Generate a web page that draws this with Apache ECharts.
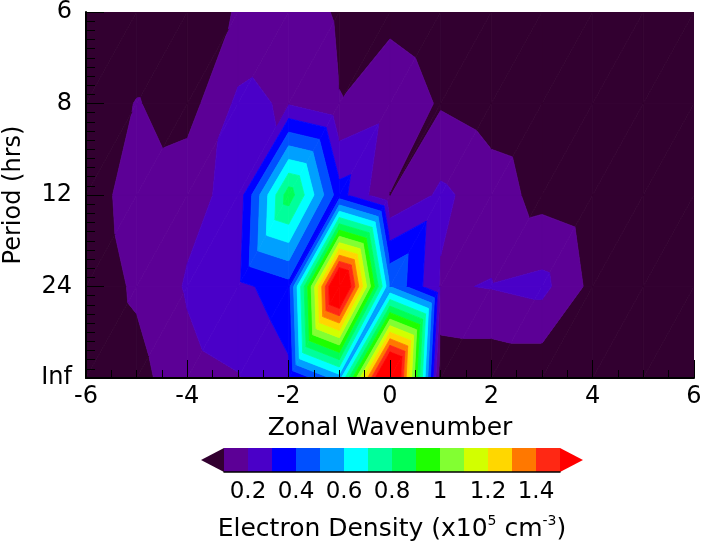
<!DOCTYPE html>
<html>
<head>
<meta charset="utf-8">
<script src="https://cdn.jsdelivr.net/npm/echarts@6.0.0/dist/echarts.min.js"></script>
<style>
  html, body { margin: 0; padding: 0; background: #fff; }
  #chart { width: 709px; height: 548px; }
</style>
</head>
<body>
<div id="chart"></div>
<script>
"use strict";

// zonal wavenumber (columns) and frequency in cycles/day (rows)
var wavenumbers = [-6, -5, -4, -3, -2, -1, 0, 1, 2, 3, 4, 5, 6];
var freqs = [0, 1, 2, 3, 4];
var periodLabels = ['Inf', '24', '12', '8', '6'];

// electron density (x10^5 cm^-3), one row per period
var densInf = [0.03, 0.065, 0.17, 0.195, 0.28, 0.55, 1.9, 0.02, 0.02, 0.02, 0.03, 0.02, 0.02];
var dens24  = [0.04, 0.115, 0.21, 0.27, 0.36, 1.8, 0.5, 0.19, 0.205, 0.23, 0.07, 0.03, 0.02];
var dens12  = [0.05, 0.145, 0.17, 0.23, 0.86, 0.34, 0.098, 0.22, 0.15, 0.065, 0.03, 0.02, 0.02];
var dens8   = [0.03, 0.105, 0.057, 0.22, 0.19, 0.102, 0.16, 0.09, 0.05, 0.03, 0.02, 0.02, 0.02];
var dens6   = [0.02, 0.02, 0.03, 0.11, 0.15, 0.089, 0.075, 0.04, 0.03, 0.02, 0.02, 0.02, 0.02];

var levels = [0.1, 0.2, 0.3, 0.4, 0.5, 0.6, 0.7, 0.8, 0.9, 1.0, 1.1, 1.2, 1.3, 1.4, 1.5];
var barLabels = [0.2, 0.4, 0.6, 0.8, 1.0, 1.2, 1.4];

var bandColors = ['#320030', '#5c0096', '#4a00c8', '#0000ff', '#0050ff', '#00a0ff', '#00ffff',
	'#00ff9b', '#00ff55', '#1eff00', '#82ff32', '#d2ff00', '#ffd700', '#ff7800', '#ff2814', '#ff0000'];

var rows = [densInf, dens24, dens12, dens8, dens6];

// clip a polygon (points [x, y, z]) against z >= lvl (above) or z <= lvl
function clipPoly(poly, lvl, above) {
	var out = [];
	for (var i = 0; i < poly.length; i++) {
		var a = poly[i], b = poly[(i + 1) % poly.length];
		var ina = above ? a[2] >= lvl : a[2] <= lvl;
		var inb = above ? b[2] >= lvl : b[2] <= lvl;
		if (ina) out.push(a);
		if (ina !== inb) {
			var t = (lvl - a[2]) / (b[2] - a[2]);
			out.push([a[0] + t * (b[0] - a[0]), a[1] + t * (b[1] - a[1]), lvl]);
		}
	}
	return out;
}

function bandPolys(tri) {
	var res = [];
	for (var b = 0; b < bandColors.length; b++) {
		var p = tri;
		if (b > 0) p = clipPoly(p, levels[b - 1], true);
		if (p.length >= 3 && b < levels.length) p = clipPoly(p, levels[b], false);
		if (p.length >= 3) res.push({ poly: p, color: bandColors[b] });
	}
	return res;
}

var cells = [];
for (var j = 0; j < freqs.length - 1; j++) {
	for (var i = 0; i < wavenumbers.length - 1; i++) {
		cells.push([wavenumbers[i], freqs[j]]);
	}
}

function renderCell(params, api) {
	var x0 = api.value(0), f0 = api.value(1);
	var i = wavenumbers.indexOf(x0), j = freqs.indexOf(f0);
	var x1 = wavenumbers[i + 1], f1 = freqs[j + 1];
	var p00 = [x0, f0, rows[j][i]];
	var p10 = [x1, f0, rows[j][i + 1]];
	var p01 = [x0, f1, rows[j + 1][i]];
	var p11 = [x1, f1, rows[j + 1][i + 1]];
	var tris = [[p00, p10, p11], [p00, p11, p01]];
	var children = [];
	tris.forEach(function(tri) {
		bandPolys(tri).forEach(function(bp) {
			children.push({
				type: 'polygon',
				shape: { points: bp.poly.map(function(p) { return api.coord([p[0], p[1]]); }) },
				style: { fill: bp.color, stroke: bp.color, lineWidth: 0.8 }
			});
		});
	});
	return { type: 'group', children: children };
}

var barItems = [];
for (var k = 0; k < bandColors.length; k++) barItems.push([k]);

function renderBar(params, api) {
	var k = api.value(0);
	var color = bandColors[k];
	var tipLen = 23;
	if (k === 0) {
		var a = api.coord([levels[0], 1]), b = api.coord([levels[0], 0]);
		return { type: 'polygon', shape: { points: [a, b, [a[0] - tipLen, (a[1] + b[1]) / 2]] }, style: { fill: color } };
	}
	if (k === bandColors.length - 1) {
		var c = api.coord([levels[levels.length - 1], 1]), d = api.coord([levels[levels.length - 1], 0]);
		return { type: 'polygon', shape: { points: [c, d, [c[0] + tipLen, (c[1] + d[1]) / 2]] }, style: { fill: color } };
	}
	var lo = api.coord([levels[k - 1], 1]), hi = api.coord([levels[k], 0]);
	return { type: 'rect', shape: { x: lo[0], y: lo[1], width: hi[0] - lo[0], height: hi[1] - lo[1] }, style: { fill: color } };
}

var FONT = 'DejaVu Sans';
var chart = echarts.init(document.getElementById('chart'), null, { renderer: 'canvas' });

chart.setOption({
	animation: false,
	backgroundColor: '#ffffff',
	textStyle: { fontFamily: FONT, color: '#000' },
	grid: [
		{ left: 86, right: 15, top: 12, bottom: 170, outerBoundsMode: 'none' },
		{ left: 224, width: 336, top: 448, height: 24, outerBoundsMode: 'none' }
	],
	xAxis: [{
		type: 'value', gridIndex: 0, min: -6, max: 6, interval: 2, z: 10,
		name: 'Zonal Wavenumber', nameLocation: 'middle', nameGap: 38,
		nameTextStyle: { fontFamily: FONT, fontSize: 25, color: '#000' },
		axisLine: { show: true, onZero: false, lineStyle: { color: '#000', width: 2 } },
		axisTick: { show: true, inside: true, length: 18, lineStyle: { color: '#000', width: 1 } },
		minorTick: { show: true, splitNumber: 4, length: 8, lineStyle: { color: '#000', width: 1 } },
		axisLabel: { fontFamily: FONT, fontSize: 24, color: '#000', margin: 7 },
		splitLine: { show: false }
	}, {
		type: 'value', gridIndex: 1, min: 0.1, max: 1.5, z: 10,
		name: '{t|Electron Density (x10}{s|5}{t| cm}{s|-3}{t|)}', nameLocation: 'middle', nameGap: 42,
		nameTextStyle: {
			rich: {
				t: { fontFamily: FONT, fontSize: 25, color: '#000', lineHeight: 30 },
				s: { fontFamily: FONT, fontSize: 14, color: '#000', verticalAlign: 'top', lineHeight: 30 }
			}
		},
		axisLine: { show: true, onZero: false, lineStyle: { color: '#000', width: 1.5 } },
		axisTick: { show: false },
		axisLabel: {
			fontFamily: FONT, fontSize: 23, color: '#000', margin: 9,
			customValues: barLabels,
			formatter: function(v) { return String(Math.round(v * 10) / 10); }
		},
		splitLine: { show: false }
	}],
	yAxis: [{
		type: 'value', gridIndex: 0, min: 0, max: 4, interval: 1, z: 10,
		name: 'Period (hrs)', nameLocation: 'middle', nameGap: 60,
		nameTextStyle: { fontFamily: FONT, fontSize: 24, color: '#000' },
		axisLine: { show: true, onZero: false, lineStyle: { color: '#000', width: 2 } },
		axisTick: { show: true, inside: true, length: 18, lineStyle: { color: '#000', width: 1 } },
		minorTick: { show: true, splitNumber: 10, length: 9, lineStyle: { color: '#000', width: 1 } },
		axisLabel: {
			fontFamily: FONT, fontSize: 24, color: '#000', margin: 14,
			formatter: function(v) { return periodLabels[freqs.indexOf(v)]; }
		},
		splitLine: { show: false }
	}, {
		type: 'value', gridIndex: 1, min: 0, max: 1, show: false
	}],
	series: [{
		type: 'custom', xAxisIndex: 0, yAxisIndex: 0, z: 1,
		renderItem: renderCell, data: cells, encode: { x: 0, y: 1 }, clip: true
	}, {
		type: 'custom', xAxisIndex: 1, yAxisIndex: 1, z: 1,
		renderItem: renderBar, data: barItems, encode: { x: 0 }
	}]
});
</script>
</body>
</html>
